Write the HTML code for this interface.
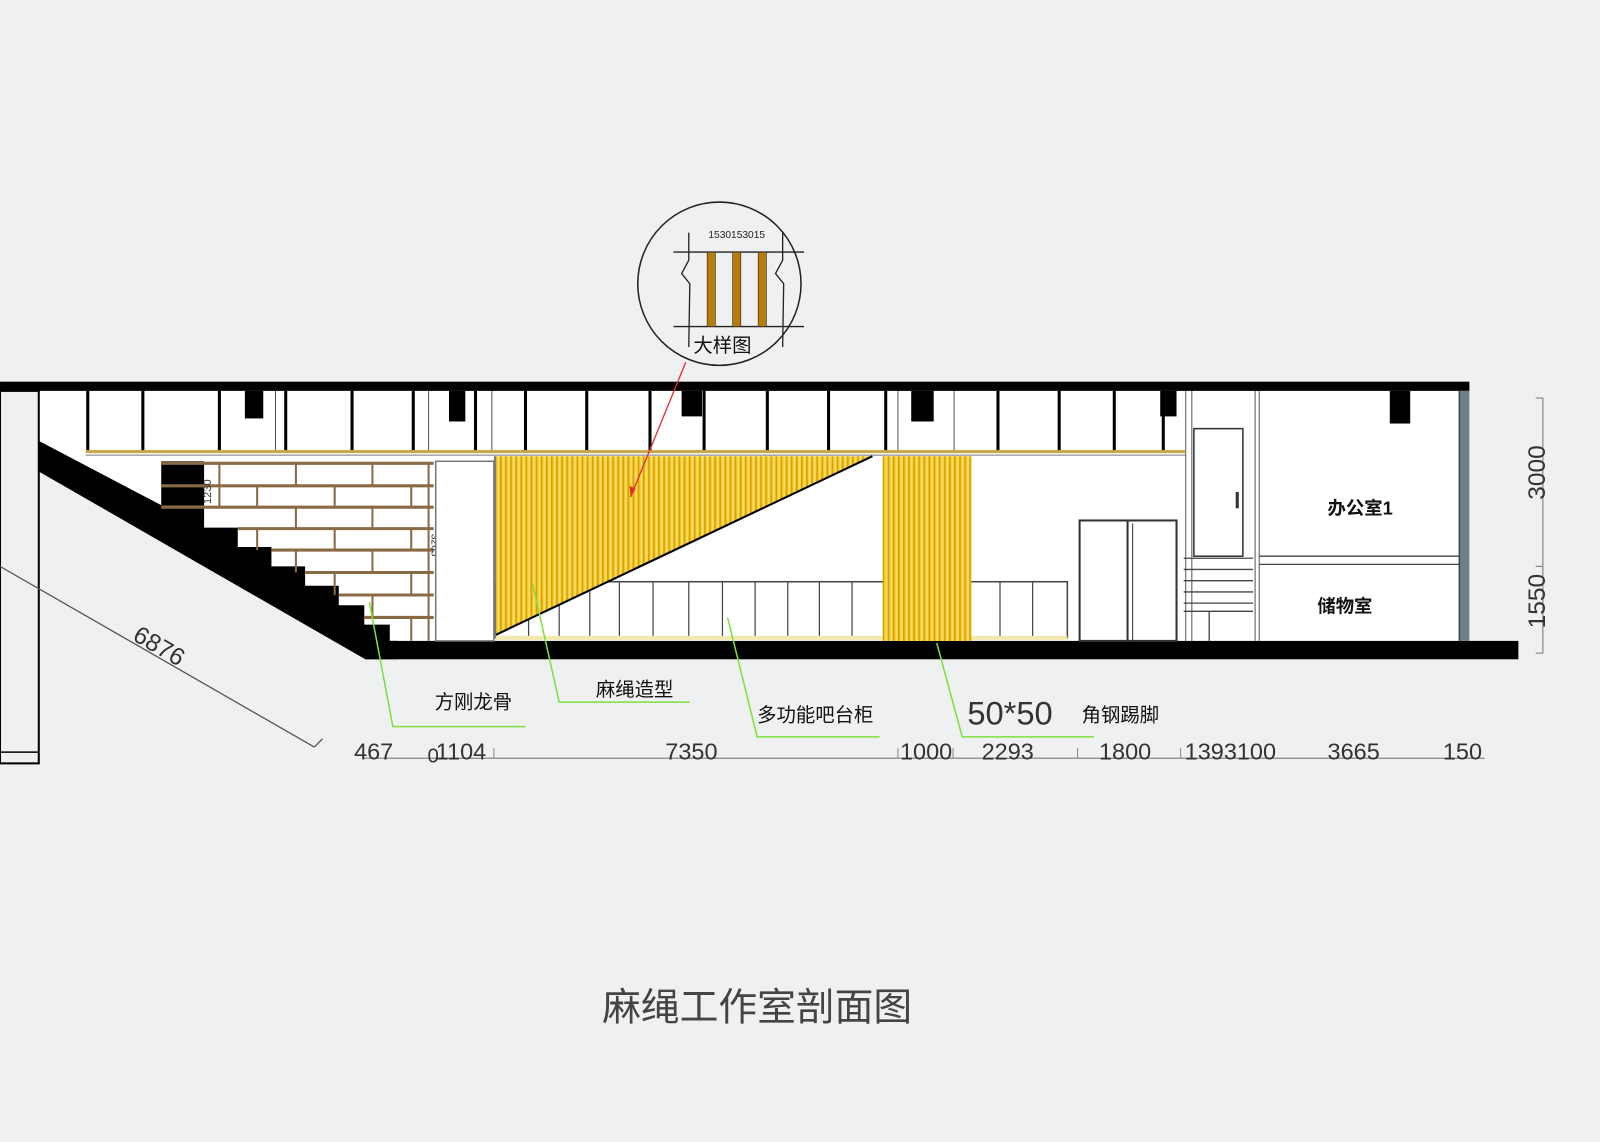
<!DOCTYPE html>
<html><head><meta charset="utf-8"><style>
html,body{margin:0;padding:0;background:#eef0f2;}
svg{display:block;}
text{font-family:"Liberation Sans","Noto Sans CJK SC",sans-serif;}
.cjk{font-family:"Liberation Sans","Noto Sans CJK SC",sans-serif;}
</style></head><body>
<svg width="1600" height="1142" viewBox="0 0 1568 1119" preserveAspectRatio="none" xmlns="http://www.w3.org/2000/svg">
<defs>
<pattern id="rope" width="5" height="10" patternUnits="userSpaceOnUse">
<rect width="5" height="10" fill="#f6cf3a"/>
<rect x="0" width="1.6" height="10" fill="#d9a000"/>
<rect x="3" width="1" height="10" fill="#fbe27a"/>
</pattern>
</defs>
<rect width="1568" height="1119" fill="#eef0f2"/>

<polygon points="38,383 1430,383 1430,628 390,628 358,646 38,462" fill="#fff"/>
<rect x="0" y="374" width="1440" height="9" fill="#000"/>
<g stroke="#000" stroke-width="3">
<line x1="86" y1="383" x2="86" y2="443"/><line x1="140" y1="383" x2="140" y2="443"/>
<line x1="215" y1="383" x2="215" y2="443"/><line x1="280" y1="383" x2="280" y2="443"/>
<line x1="345" y1="383" x2="345" y2="443"/><line x1="405" y1="383" x2="405" y2="443"/>
<line x1="466" y1="383" x2="466" y2="443"/><line x1="515" y1="383" x2="515" y2="443"/>
<line x1="575" y1="383" x2="575" y2="443"/><line x1="637" y1="383" x2="637" y2="443"/>
<line x1="690" y1="383" x2="690" y2="443"/><line x1="752" y1="383" x2="752" y2="443"/>
<line x1="812" y1="383" x2="812" y2="443"/><line x1="868" y1="383" x2="868" y2="443"/>
<line x1="978" y1="383" x2="978" y2="443"/><line x1="1038" y1="383" x2="1038" y2="443"/>
<line x1="1092" y1="383" x2="1092" y2="443"/><line x1="1140" y1="383" x2="1140" y2="443"/>
</g>
<g stroke="#555" stroke-width="1">
<line x1="270" y1="383" x2="270" y2="443"/><line x1="420" y1="383" x2="420" y2="443"/>
<line x1="482" y1="383" x2="482" y2="443"/><line x1="880" y1="383" x2="880" y2="443"/>
<line x1="935" y1="383" x2="935" y2="443"/><line x1="1162" y1="383" x2="1162" y2="628"/>
<line x1="1168" y1="383" x2="1168" y2="628"/><line x1="1230" y1="383" x2="1230" y2="628"/>
<line x1="1234" y1="383" x2="1234" y2="628"/>
</g>
<g fill="#000">
<rect x="240" y="383" width="18" height="27"/>
<rect x="440" y="383" width="16" height="30"/>
<rect x="668" y="383" width="20" height="25"/>
<rect x="893" y="383" width="22" height="30"/>
<rect x="1137" y="383" width="16" height="25"/>
<rect x="1362" y="383" width="20" height="32"/>
</g>
<rect x="84" y="441" width="1078" height="3" fill="#c9a64a"/>
<line x1="84" y1="446" x2="1162" y2="446" stroke="#777" stroke-width="1"/>

<rect x="0" y="383" width="38" height="365" fill="#eef0f2" stroke="#000" stroke-width="2"/>
<line x1="0" y1="737" x2="38" y2="737" stroke="#000" stroke-width="1.5"/>

<polygon fill="#000" points="38,432 158,495 200,495 200,517 233,517 233,536 266,536 266,555 299,555 299,574 332,574 332,593 357,593 357,612 382,612 382,628 390,628 390,646 358,646 38,462"/>
<rect x="358" y="628" width="1130" height="18" fill="#000"/>
<rect x="158" y="452" width="42" height="43" fill="#000"/>
<g stroke="#8a6a45" stroke-width="3">
<line x1="158" y1="454" x2="425" y2="454"/><line x1="158" y1="476" x2="425" y2="476"/>
<line x1="158" y1="497" x2="425" y2="497"/><line x1="233" y1="518" x2="425" y2="518"/>
<line x1="266" y1="539" x2="425" y2="539"/><line x1="299" y1="561" x2="425" y2="561"/>
<line x1="332" y1="583" x2="425" y2="583"/><line x1="357" y1="605" x2="425" y2="605"/>
</g>
<g stroke="#8a6a45" stroke-width="2">
<line x1="215" y1="454" x2="215" y2="497"/><line x1="290" y1="454" x2="290" y2="476"/><line x1="365" y1="454" x2="365" y2="476"/>
<line x1="252" y1="476" x2="252" y2="497"/><line x1="328" y1="476" x2="328" y2="497"/><line x1="403" y1="476" x2="403" y2="497"/>
<line x1="290" y1="497" x2="290" y2="518"/><line x1="365" y1="497" x2="365" y2="518"/>
<line x1="252" y1="518" x2="252" y2="539"/><line x1="328" y1="518" x2="328" y2="539"/><line x1="403" y1="518" x2="403" y2="539"/>
<line x1="290" y1="539" x2="290" y2="561"/><line x1="365" y1="539" x2="365" y2="561"/>
<line x1="328" y1="561" x2="328" y2="583"/><line x1="403" y1="561" x2="403" y2="583"/>
<line x1="365" y1="583" x2="365" y2="605"/><line x1="403" y1="605" x2="403" y2="628"/>
<line x1="420" y1="454" x2="420" y2="628"/>
</g>
<text x="207" y="494" font-size="11" fill="#333" transform="rotate(-90 207 494)">1230</text>
<text x="423" y="523" font-size="10" fill="#333" transform="rotate(90 423 523)">3265</text>
<rect x="427" y="452" width="57" height="176" fill="#fff" stroke="#777" stroke-width="1.5"/>

<rect x="486" y="570" width="560" height="55" fill="#fff" stroke="#444" stroke-width="1.5"/>
<g stroke="#444" stroke-width="1.2">
<line x1="518" y1="570" x2="518" y2="625"/><line x1="548" y1="570" x2="548" y2="625"/>
<line x1="578" y1="570" x2="578" y2="625"/><line x1="607" y1="570" x2="607" y2="625"/>
<line x1="640" y1="570" x2="640" y2="625"/><line x1="675" y1="570" x2="675" y2="625"/>
<line x1="708" y1="570" x2="708" y2="625"/><line x1="740" y1="570" x2="740" y2="625"/>
<line x1="772" y1="570" x2="772" y2="625"/><line x1="803" y1="570" x2="803" y2="625"/>
<line x1="835" y1="570" x2="835" y2="625"/><line x1="980" y1="570" x2="980" y2="625"/>
<line x1="1012" y1="570" x2="1012" y2="625"/>
</g>
<rect x="486" y="623" width="560" height="4" fill="#f3e9b0"/>
<polygon points="486,447 855,447 486,622" fill="url(#rope)"/>
<line x1="486" y1="622" x2="855" y2="447" stroke="#000" stroke-width="2"/>
<rect x="484" y="447" width="2" height="178" fill="#777"/>
<rect x="865" y="447" width="87" height="181" fill="url(#rope)"/>

<rect x="1170" y="420" width="48" height="125" fill="#fff" stroke="#333" stroke-width="1.5"/>
<rect x="1211" y="482" width="3" height="16" fill="#333"/>
<rect x="1058" y="510" width="95" height="118" fill="#fff" stroke="#333" stroke-width="2"/>
<line x1="1105" y1="510" x2="1105" y2="628" stroke="#333" stroke-width="2"/>
<line x1="1110" y1="513" x2="1110" y2="628" stroke="#333" stroke-width="1"/>
<g stroke="#444" stroke-width="1.3">
<line x1="1160" y1="547" x2="1228" y2="547"/><line x1="1160" y1="558" x2="1228" y2="558"/>
<line x1="1160" y1="569" x2="1228" y2="569"/><line x1="1160" y1="580" x2="1228" y2="580"/>
<line x1="1160" y1="591" x2="1228" y2="591"/><line x1="1160" y1="599" x2="1228" y2="599"/>
<line x1="1185" y1="599" x2="1185" y2="628"/>
<line x1="1234" y1="545" x2="1430" y2="545"/><line x1="1234" y1="553" x2="1430" y2="553"/>
</g>
<rect x="1430" y="383" width="10" height="245" fill="#6e7f86"/>
<line x1="1430" y1="383" x2="1430" y2="628" stroke="#222" stroke-width="1"/>
<text x="1333" y="504" font-size="18" text-anchor="middle" fill="#111" font-weight="bold" class="cjk">办公室1</text>
<text x="1318" y="600" font-size="18" text-anchor="middle" fill="#111" font-weight="bold" class="cjk">储物室</text>

<g stroke="#888" stroke-width="1.2" fill="none">
<line x1="1512" y1="390" x2="1512" y2="640"/>
<line x1="1505" y1="390" x2="1512" y2="390"/><line x1="1505" y1="555" x2="1512" y2="555"/><line x1="1505" y1="640" x2="1512" y2="640"/>
</g>
<text x="1514" y="463" font-size="24" fill="#333" text-anchor="middle" transform="rotate(-90 1514 463)">3000</text>
<text x="1514" y="589" font-size="24" fill="#333" text-anchor="middle" transform="rotate(-90 1514 589)">1550</text>

<line x1="0" y1="555" x2="308" y2="732" stroke="#555" stroke-width="1.3"/>
<line x1="308" y1="732" x2="316" y2="724" stroke="#555" stroke-width="1.3"/>
<text x="152" y="640" font-size="24" fill="#333" text-anchor="middle" transform="rotate(30 152 640)">6876</text>

<line x1="355" y1="743" x2="1455" y2="743" stroke="#888" stroke-width="1.3"/>
<g stroke="#888" stroke-width="1"><line x1="484" y1="733" x2="484" y2="743"/><line x1="880" y1="733" x2="880" y2="743"/><line x1="934" y1="733" x2="934" y2="743"/><line x1="1056" y1="733" x2="1056" y2="743"/><line x1="1157" y1="733" x2="1157" y2="743"/></g>
<g font-size="23" fill="#333">
<text x="347" y="744">467</text><text x="419" y="747" font-size="20">0</text><text x="427" y="744">1104</text>
<text x="652" y="744">7350</text><text x="882" y="744">1000</text><text x="962" y="744">2293</text>
<text x="1077" y="744">1800</text><text x="1161" y="744">1393100</text><text x="1301" y="744">3665</text><text x="1414" y="744">150</text>
</g>

<g stroke="#7ee03a" stroke-width="1.5" fill="none">
<polyline points="362,590 385,712 515,712"/>
<polyline points="522,572 548,688 676,688"/>
<polyline points="713,605 742,722 862,722"/>
<polyline points="918,630 943,722 1072,722"/>
</g>
<g font-size="19" fill="#111" class="cjk">
<text x="426" y="694">方刚龙骨</text>
<text x="584" y="682">麻绳造型</text>
<text x="742" y="707">多功能吧台柜</text>
<text x="948" y="710" font-size="32" fill="#333">50*50</text>
<text x="1060" y="707">角钢踢脚</text>
</g>

<line x1="672" y1="355" x2="618" y2="487" stroke="#e03030" stroke-width="1.3"/>
<polygon points="618,487 617,476 623,479" fill="#e03030"/>
<circle cx="705" cy="278" r="80" fill="#eef0f2" stroke="#222" stroke-width="1.5"/>
<g stroke="#222" stroke-width="1.3" fill="none">
<line x1="660" y1="247" x2="788" y2="247"/><line x1="660" y1="320" x2="788" y2="320"/>
<polyline points="675,228 675,255 668,268 676,278 675,340"/>
<polyline points="767,228 767,255 760,268 768,278 767,340"/>
</g>
<g fill="#b87c0c" stroke="#222" stroke-width="0.6">
<rect x="693" y="247" width="8" height="73"/><rect x="718" y="247" width="8" height="73"/><rect x="743" y="247" width="8" height="73"/>
</g>
<text x="722" y="233" font-size="10" fill="#222" text-anchor="middle">1530153015</text>
<text x="708" y="345" font-size="19" fill="#111" text-anchor="middle" class="cjk">大样图</text>

<text x="742" y="1000" font-size="38" fill="#444" text-anchor="middle" class="cjk">麻绳工作室剖面图</text>
</svg>
</body></html>
